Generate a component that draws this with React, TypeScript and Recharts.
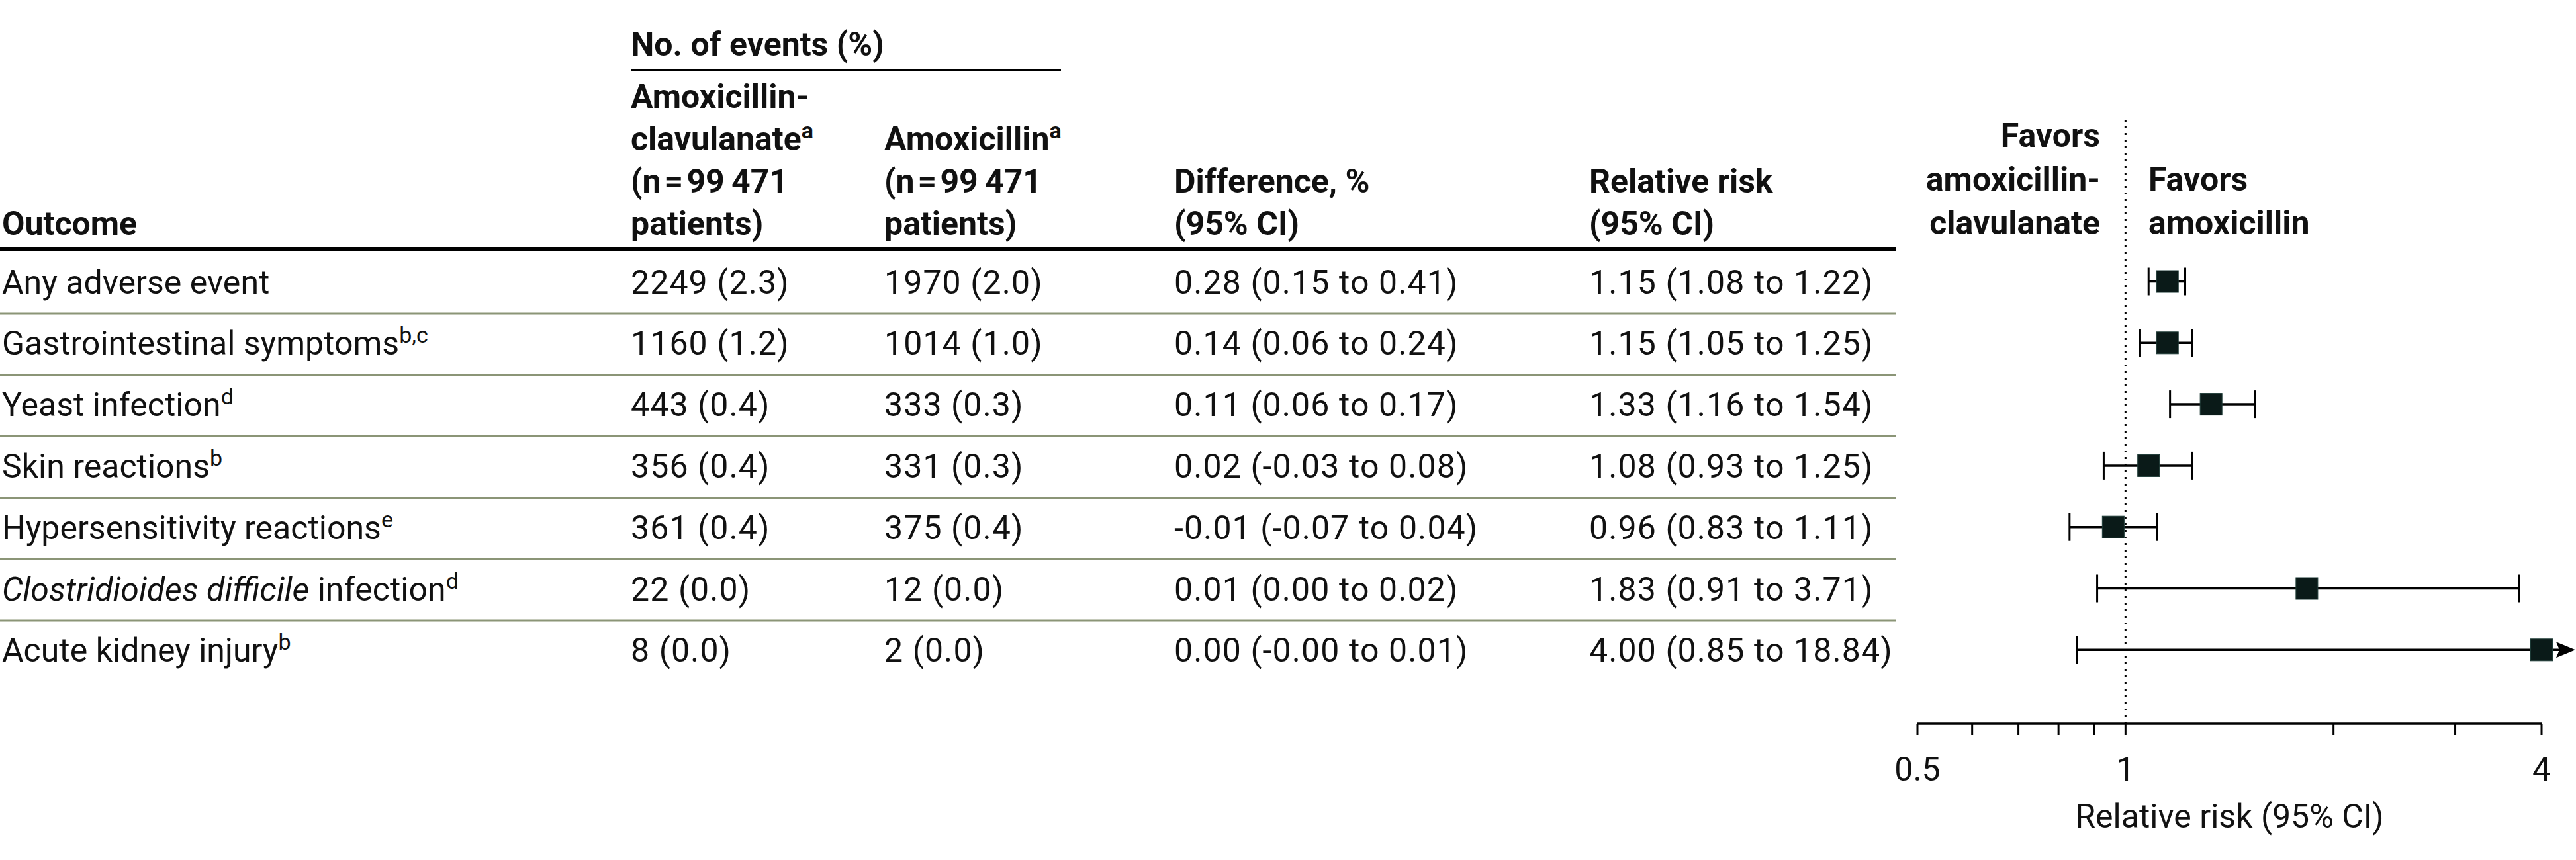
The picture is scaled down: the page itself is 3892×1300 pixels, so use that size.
import React from 'react';
import {
  ScatterChart, Scatter, XAxis, YAxis, ReferenceLine,
} from 'recharts';

// ---- data ----
const outcomeItalic = ['', '', '', '', '', 'Clostridioides difficile', ''];
const outcomeText = [
  'Any adverse event',
  'Gastrointestinal symptoms',
  'Yeast infection',
  'Skin reactions',
  'Hypersensitivity reactions',
  ' infection',
  'Acute kidney injury',
];
const footnotes = ['', 'b,c', 'd', 'b', 'e', 'd', 'b'];
const eventsAmoxClav = [2249, 1160, 443, 356, 361, 22, 8];
const pctAmoxClav = [2.3, 1.2, 0.4, 0.4, 0.4, 0.0, 0.0];
const eventsAmox = [1970, 1014, 333, 331, 375, 12, 2];
const pctAmox = [2.0, 1.0, 0.3, 0.3, 0.4, 0.0, 0.0];
const diffText = [
  '0.28 (0.15 to 0.41)',
  '0.14 (0.06 to 0.24)',
  '0.11 (0.06 to 0.17)',
  '0.02 (-0.03 to 0.08)',
  '-0.01 (-0.07 to 0.04)',
  '0.01 (0.00 to 0.02)',
  '0.00 (-0.00 to 0.01)',
];
const rr = [1.15, 1.15, 1.33, 1.08, 0.96, 1.83, 4.0];
const rrLo = [1.08, 1.05, 1.16, 0.93, 0.83, 0.91, 0.85];
const rrHi = [1.22, 1.25, 1.54, 1.25, 1.11, 3.71, 18.84];

const xTicks = [0.5, 0.6, 0.7, 0.8, 0.9, 1, 2, 3, 4];
const xTickLabels = ['0.5', '', '', '', '', '1', '', '', '4'];

// ---- layout ----
const W = 3892;
const H = 1300;
const FONT = 'Roboto, "Liberation Sans", Arial, sans-serif';
const FS = 50;
const NUM_LS = 1.1;
const COLS = [3, 953, 1336, 1774, 2401];
const ROW0 = 425.5;
const ROW_H = 92.8;
const PLOT_TOP = 176;
const PLOT_BOTTOM = 1094;
const PLOT_LEFT = 2897;
const PLOT_RIGHT = 3840;
const TABLE_RIGHT = 2864;
const X_MIN = 0.5;
const X_MAX = 4;
const SQ = 33;
const SEP = '#8b9577';

const rows = rr.map((v, i) => ({ row: i, rr: v, lo: rrLo[i], hi: rrHi[i] }));

const Sup = ({ t }: { t: string }) =>
  t ? <tspan fontSize={34} dy={-18}>{t}</tspan> : null;

const RowTick = (props: any) => {
  const i = props.payload?.value as number;
  const y = props.y as number;
  if (i == null || i < 0 || i >= rr.length) return null;
  const base = y + 18;
  return (
    <g fontFamily={FONT} fontSize={FS} fill="#111">
      {i === 0 && (
        <line x1={0} x2={TABLE_RIGHT} y1={y - 48.5} y2={y - 48.5} stroke="#000" strokeWidth={6} />
      )}
      {i < rr.length - 1 && (
        <line x1={0} x2={TABLE_RIGHT} y1={y + 48.5} y2={y + 48.5} stroke={SEP} strokeWidth={3} />
      )}
      <text x={COLS[0]} y={base}>
        {outcomeItalic[i] && <tspan fontStyle="italic">{outcomeItalic[i]}</tspan>}
        <tspan>{outcomeText[i]}</tspan>
        <Sup t={footnotes[i]} />
      </text>
      <g letterSpacing={NUM_LS}>
        <text x={COLS[1]} y={base}>{`${eventsAmoxClav[i]} (${pctAmoxClav[i].toFixed(1)})`}</text>
        <text x={COLS[2]} y={base}>{`${eventsAmox[i]} (${pctAmox[i].toFixed(1)})`}</text>
        <text x={COLS[3]} y={base}>{diffText[i]}</text>
        <text x={COLS[4]} y={base}>{`${rr[i].toFixed(2)} (${rrLo[i].toFixed(2)} to ${rrHi[i].toFixed(2)})`}</text>
      </g>
    </g>
  );
};

const XTick = (props: any) => {
  const v = props.payload?.value;
  const idx = xTicks.indexOf(v);
  const label = idx >= 0 ? xTickLabels[idx] : '';
  if (!label) return null;
  return (
    <text x={props.x} y={1180} textAnchor="middle" fontFamily={FONT} fontSize={FS} fill="#111">
      {label}
    </text>
  );
};

const ciShape = (truncated: boolean) => (p: any) => {
  const { x1, y1, x2 } = p;
  const cap = 21;
  return (
    <g>
      <line x1={x1} x2={truncated ? x2 + 30 : x2} y1={y1} y2={y1} stroke="#000" strokeWidth={3.5} />
      <line x1={x1} x2={x1} y1={y1 - cap} y2={y1 + cap} stroke="#000" strokeWidth={3} />
      {truncated ? (
        <path
          d={`M${x2 + 22},${y1 - 12} L${x2 + 51},${y1} L${x2 + 22},${y1 + 12} L${x2 + 27},${y1} Z`}
          fill="#000"
        />
      ) : (
        <line x1={x2} x2={x2} y1={y1 - cap} y2={y1 + cap} stroke="#000" strokeWidth={3} />
      )}
    </g>
  );
};

const Square = (p: any) => (
  <rect x={p.cx - SQ / 2} y={p.cy - SQ / 2} width={SQ} height={SQ} fill="#0a1a18" stroke="#1d3a36" strokeWidth={1} />
);

const yDomain: [number, number] = [(PLOT_TOP - ROW0) / ROW_H, (PLOT_BOTTOM - ROW0) / ROW_H];

const HeaderOverlay = () => {
  const L = [163, 227, 291, 355];
  const bold = { fontFamily: FONT, fontSize: FS, fontWeight: 700, fill: '#111' } as const;
  const n = '(n\u200A=\u200A99\u2009471';
  return (
    <svg width={W} height={H} style={{ position: 'absolute', left: 0, top: 0, pointerEvents: 'none' }}>
      <text x={COLS[1]} y={84} {...bold}>No. of events (%)</text>
      <line x1={954} x2={1603} y1={106} y2={106} stroke="#000" strokeWidth={3} />
      <text x={COLS[0]} y={L[3]} {...bold}>Outcome</text>
      <text x={COLS[1]} y={L[0]} {...bold}>Amoxicillin-</text>
      <text x={COLS[1]} y={L[1]} {...bold}>clavulanate<Sup t="a" /></text>
      <text x={COLS[1]} y={L[2]} {...bold}>{n}</text>
      <text x={COLS[1]} y={L[3]} {...bold}>patients)</text>
      <text x={COLS[2]} y={L[1]} {...bold}>Amoxicillin<Sup t="a" /></text>
      <text x={COLS[2]} y={L[2]} {...bold}>{n}</text>
      <text x={COLS[2]} y={L[3]} {...bold}>patients)</text>
      <text x={COLS[3]} y={L[2]} {...bold}>Difference, %</text>
      <text x={COLS[3]} y={L[3]} {...bold}>(95% CI)</text>
      <text x={COLS[4]} y={L[2]} {...bold}>Relative risk</text>
      <text x={COLS[4]} y={L[3]} {...bold}>(95% CI)</text>
      <text x={3173} y={222} textAnchor="end" {...bold}>Favors</text>
      <text x={3173} y={288} textAnchor="end" {...bold}>amoxicillin-</text>
      <text x={3173} y={354} textAnchor="end" {...bold}>clavulanate</text>
      <text x={3246} y={288} {...bold}>Favors</text>
      <text x={3246} y={354} {...bold}>amoxicillin</text>
    </svg>
  );
};

export default function App() {
  return (
    <div style={{ position: 'absolute', left: 0, top: 0, width: W, height: H, background: '#fff' }}>
      <ScatterChart
        width={W}
        height={H}
        margin={{ top: PLOT_TOP, right: W - PLOT_RIGHT, bottom: 0, left: PLOT_LEFT - 1 }}
      >
        <XAxis
          type="number"
          dataKey="rr"
          scale="log"
          domain={[X_MIN, X_MAX]}
          ticks={xTicks}
          interval={0}
          height={H - PLOT_BOTTOM}
          axisLine={{ stroke: '#000', strokeWidth: 3.5 }}
          tickLine={{ stroke: '#000', strokeWidth: 3 }}
          tickSize={17}
          tick={<XTick />}
          label={{
            value: 'Relative risk (95% CI)',
            position: 'insideBottom',
            offset: 49,
            style: { fontFamily: FONT, fontSize: FS, fill: '#111' },
          }}
        />
        <YAxis
          type="number"
          dataKey="row"
          domain={yDomain}
          reversed
          ticks={[0, 1, 2, 3, 4, 5, 6]}
          interval={0}
          width={1}
          axisLine={false}
          tickLine={false}
          tick={<RowTick />}
        />
        <ReferenceLine x={1} stroke="#000" strokeWidth={3} strokeDasharray="3 7" />
        {rows.map((d) => (
          <ReferenceLine
            key={d.row}
            segment={[{ x: d.lo, y: d.row }, { x: Math.min(d.hi, X_MAX), y: d.row }]}
            ifOverflow="visible"
            shape={ciShape(d.hi > X_MAX)}
          />
        ))}
        <Scatter data={rows} shape={<Square />} isAnimationActive={false} />
      </ScatterChart>
      <HeaderOverlay />
    </div>
  );
}
